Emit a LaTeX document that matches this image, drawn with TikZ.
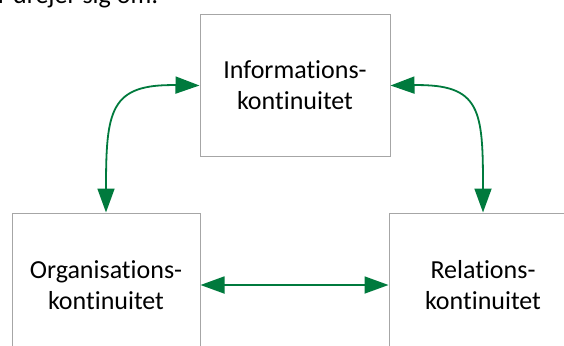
\documentclass[tikz,border=0pt]{standalone}
\usepackage{fontspec}
\setmainfont{Carlito}[Ligatures={NoCommon}]
\usetikzlibrary{arrows.meta}
\definecolor{arrgreen}{RGB}{0,122,61}
\definecolor{boxgray}{RGB}{166,166,166}
\tikzset{
  boxnode/.style={draw=boxgray, line width=1pt, rectangle, align=center,
    font=\fontsize{26}{31}\selectfont, inner sep=0pt},
  link/.style={draw=arrgreen, line width=1.8pt,
    {Triangle[length=24pt,width=17pt]}-{Triangle[length=24pt,width=17pt]}},
}
\begin{document}
\begin{tikzpicture}[x=1pt,y=-1pt]
\clip (0,0) rectangle (564,345);
\useasboundingbox (0,0) rectangle (564,345);
\node[anchor=base west, font=\fontsize{26}{31}\selectfont, inner sep=0pt] (head) at (-2,4) {r drejer sig om:};
\node[boxnode, minimum width=190pt, minimum height=141pt] (info) at (295,85.5) {Informations-\\kontinuitet};
\node[boxnode, minimum width=188pt, minimum height=144pt] (org) at (106,285) {Organisations-\\kontinuitet};
\node[boxnode, minimum width=188pt, minimum height=144pt] (rel) at (483,285) {Relations-\\kontinuitet};
\draw[link] (info.west) .. controls (110,84) and (106,110) .. (org.north);
\draw[link] (info.east) .. controls (481,84) and (483,110) .. (rel.north);
\draw[link] (org.east) -- (rel.west);
\end{tikzpicture}
\end{document}
